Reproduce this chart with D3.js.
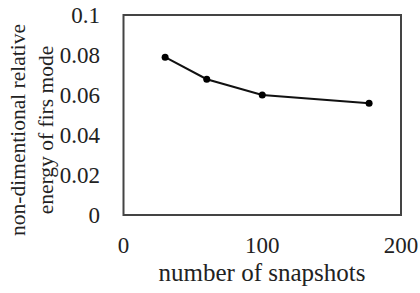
<!DOCTYPE html>
<html><head><meta charset="utf-8">
<script src="https://cdn.jsdelivr.net/npm/d3@7"></script>
<style>html,body{margin:0;padding:0;background:#fff;}svg{display:block;}</style>
</head><body>
<script>
const snapshots = [30, 60, 100, 177];
const energy = [0.0789, 0.0679, 0.0600, 0.0559];
const xTicks = [0, 100, 200];
const yTicks = [0, 0.02, 0.04, 0.06, 0.08, 0.1];
const xTitle = "number of snapshots";
const yTitleLines = ["non-dimentional relative", "energy of firs mode"];

const W = 420, H = 293;
const m = {left: 123.5, right: 19, top: 15, bottom: 78};
const svg = d3.select("body").append("svg").attr("width", W).attr("height", H);
const x = d3.scaleLinear().domain([0, 200]).range([m.left, W - m.right]);
const y = d3.scaleLinear().domain([0, 0.1]).range([H - m.bottom, m.top]);
const font = "'Liberation Serif','Times New Roman',serif";

// plot frame
svg.append("rect").attr("x", x(0)).attr("y", y(0.1))
  .attr("width", x(200) - x(0)).attr("height", y(0) - y(0.1))
  .attr("fill", "none").attr("stroke", "#444").attr("stroke-width", 2);

// y axis tick labels
svg.append("g").selectAll("text").data(yTicks).join("text")
  .attr("x", 100).attr("y", d => y(d) + 8)
  .attr("text-anchor", "end").attr("font-family", font).attr("font-size", 23)
  .attr("fill", "#222").text(d => d3.format("~g")(d));

// x axis tick labels
svg.append("g").selectAll("text").data(xTicks).join("text")
  .attr("x", d => x(d)).attr("y", 253)
  .attr("text-anchor", "middle").attr("font-family", font).attr("font-size", 23)
  .attr("fill", "#222").text(d => d);

// x title
svg.append("text").attr("x", 262).attr("y", 281).attr("text-anchor", "middle")
  .attr("font-family", font).attr("font-size", 25).attr("fill", "#222").text(xTitle);

// y title
const yt = svg.append("text").attr("transform", "translate(0,130) rotate(-90)")
  .attr("text-anchor", "middle").attr("font-family", font).attr("font-size", 21.5).attr("fill", "#222");
yTitleLines.forEach((t, i) => yt.append("tspan").attr("x", 0).attr("y", 25 + i * 28).text(t));

// line
const pts = snapshots.map((s, i) => [s, energy[i]]);
svg.append("path").datum(pts)
  .attr("d", d3.line().x(d => x(d[0])).y(d => y(d[1])))
  .attr("fill", "none").attr("stroke", "#111").attr("stroke-width", 2);
svg.append("g").selectAll("circle").data(pts).join("circle")
  .attr("cx", d => x(d[0])).attr("cy", d => y(d[1])).attr("r", 3.5).attr("fill", "#000");
</script>
</body></html>
